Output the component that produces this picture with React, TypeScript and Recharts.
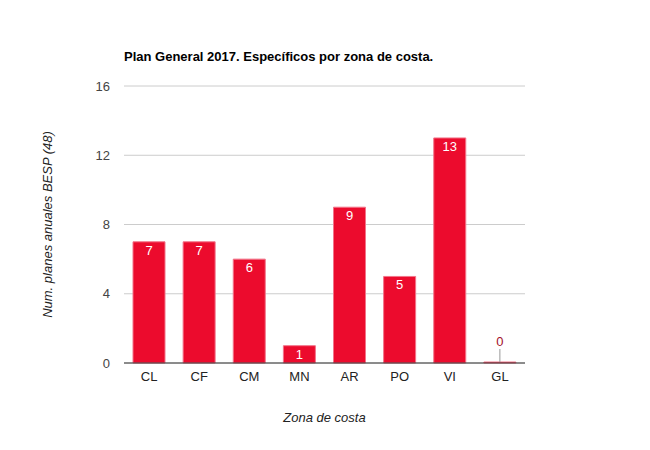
import React from 'react';
import { BarChart, Bar, XAxis, YAxis, CartesianGrid, LabelList } from 'recharts';

const zonas = ['CL', 'CF', 'CM', 'MN', 'AR', 'PO', 'VI', 'GL'];
const planes = [7, 7, 6, 1, 9, 5, 13, 0];
const yTicks = [0, 4, 8, 12, 16];

const data = zonas.map((zona, i) => ({ zona, planes: planes[i] }));

const FONT = 'Arial, "Liberation Sans", sans-serif';

if (typeof document !== 'undefined') document.body.style.margin = '0';

const ValueLabel = (props: any) => {
  const { x, y, width, value } = props;
  const cx = Number(x) + Number(width) / 2;
  if (value === 0) {
    return (
      <g>
        <line x1={cx} x2={cx} y1={Number(y) - 13} y2={Number(y)} stroke="#999" strokeWidth={1} />
        <text x={cx} y={Number(y) - 16} textAnchor="middle" fill="#a30f2a" fontSize={13} fontFamily={FONT}>
          {value}
        </text>
      </g>
    );
  }
  return (
    <text x={cx} y={Number(y) + 13} textAnchor="middle" fill="#ffffff" fontSize={13} fontFamily={FONT}>
      {value}
    </text>
  );
};

export default function App() {
  return (
    <div style={{ position: 'relative', width: 650, height: 450, background: '#fff' }}>
      <div
        style={{
          position: 'absolute', top: 49, left: 124, fontFamily: FONT,
          fontWeight: 'bold', fontSize: 13, color: '#000', lineHeight: '15px',
        }}
      >
        Plan General 2017. Específicos por zona de costa.
      </div>
      <BarChart
        width={650}
        height={450}
        data={data}
        margin={{ top: 86, right: 125, left: 80, bottom: 57 }}
        barSize={32}
      >
        <CartesianGrid vertical={false} stroke="#cccccc" />
        <XAxis
          dataKey="zona"
          height={30}
          tickLine={false}
          tickSize={0}
          tickMargin={9}
          axisLine={{ stroke: '#333333' }}
          tick={{ fill: '#222222', fontSize: 13, fontFamily: FONT }}
          label={{
            value: 'Zona de costa', position: 'bottom', offset: 20,
            style: { fill: '#222222', fontSize: 13, fontStyle: 'italic', fontFamily: FONT },
          }}
        />
        <YAxis
          width={44}
          domain={[0, 16]}
          ticks={yTicks}
          tickLine={false}
          tickSize={0}
          tickMargin={14}
          axisLine={false}
          tick={{ fill: '#444444', fontSize: 13, fontFamily: FONT }}
          label={{
            value: 'Num. planes anuales BESP (48)', angle: -90, position: 'left', offset: 33,
            style: { fill: '#222222', fontSize: 13, fontStyle: 'italic', fontFamily: FONT, textAnchor: 'middle' },
          }}
        />
        <Bar
          dataKey="planes"
          fill="#ec0b2d"
          stroke="#f27489"
          strokeWidth={1}
          minPointSize={1}
          isAnimationActive={false}
        >
          <LabelList dataKey="planes" content={ValueLabel} />
        </Bar>
      </BarChart>
    </div>
  );
}
